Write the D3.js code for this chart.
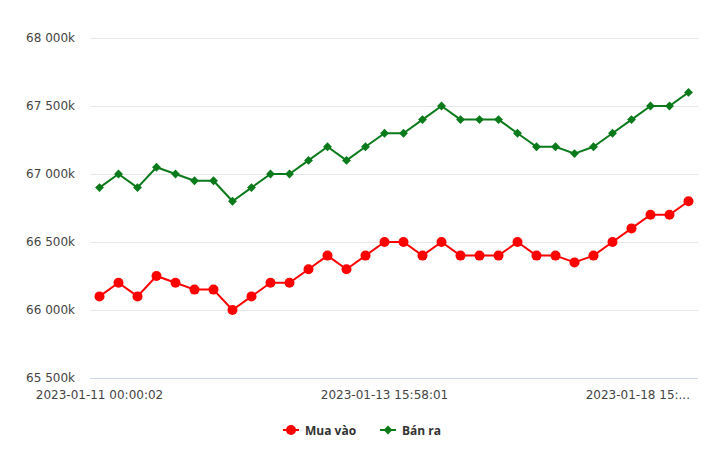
<!DOCTYPE html>
<html><head><meta charset="utf-8">
<script src="https://cdn.jsdelivr.net/npm/d3@7"></script>
<style>
body{margin:0;background:#fff;}
svg{font-family:"Open Sans","Segoe UI",Arial,sans-serif;}
.ax{font-family:"DejaVu Sans",Verdana,sans-serif;}
</style></head>
<body><svg id="c" width="720" height="452"></svg>
<script>
const muaVao = [66100,66200,66100,66250,66200,66150,66150,66000,66100,66200,66200,66300,66400,66300,66400,66500,66500,66400,66500,66400,66400,66400,66500,66400,66400,66350,66400,66500,66600,66700,66700,66800];
const banRa = [66900,67000,66900,67050,67000,66950,66950,66800,66900,67000,67000,67100,67200,67100,67200,67300,67300,67400,67500,67400,67400,67400,67300,67200,67200,67150,67200,67300,67400,67500,67500,67600];
const yTicks = [65500,66000,66500,67000,67500,68000];
const xTickIdx = [0,15,30];
const xTickLabels = ["2023-01-11 00:00:02","2023-01-13 15:58:01","2023-01-18 15:..."];
const seriesNames = ["Mua vào","Bán ra"];
const colors = ["#ff0000","#0a7a1a"];

const svg = d3.select("#c");
const pL = 90, pR = 698, pT = 38, pB = 378;
const x = d3.scalePoint().domain(d3.range(muaVao.length)).range([pL, pR]).padding(0.5);
const y = d3.scaleLinear().domain([65500,68000]).range([pB, pT]);

svg.append("g").selectAll("line").data(yTicks.filter(d=>d>65500)).join("line")
  .attr("x1",pL).attr("x2",pR).attr("y1",d=>Math.round(y(d))+0.5).attr("y2",d=>Math.round(y(d))+0.5)
  .attr("stroke","#e6e6e6").attr("stroke-width",1);
svg.append("line").attr("x1",pL).attr("x2",pR).attr("y1",pB+0.5).attr("y2",pB+0.5)
  .attr("stroke","#ccd6eb");

svg.append("g").attr("class","ax").selectAll("text").data(yTicks).join("text")
  .attr("x",75).attr("y",d=>y(d)+4).attr("text-anchor","end")
  .attr("font-size","12px").attr("fill","#444")
  .text(d=>{const s=String(d); return s.slice(0,2)+" "+s.slice(2)+"k";});

svg.append("g").attr("class","ax").selectAll("text").data(xTickIdx).join("text")
  .attr("x",(d,i)=> i===xTickIdx.length-1 ? pR-8 : x(d))
  .attr("y",399).attr("text-anchor",(d,i)=> i===xTickIdx.length-1 ? "end":"middle")
  .attr("font-size","12px").attr("fill","#444")
  .text((d,i)=>xTickLabels[i]);

const line = d3.line().x((d,i)=>x(i)).y(d=>y(d));
[muaVao,banRa].forEach((s,k)=>{
  svg.append("path").datum(s).attr("d",line).attr("fill","none")
    .attr("stroke",colors[k]).attr("stroke-width",2).attr("stroke-linejoin","round");
});
svg.append("g").selectAll("circle").data(muaVao).join("circle")
  .attr("cx",(d,i)=>x(i)).attr("cy",d=>y(d)).attr("r",5).attr("fill",colors[0]);
const dia = d3.symbol().type(d3.symbolDiamond2).size(50);
svg.append("g").selectAll("path").data(banRa).join("path")
  .attr("d",dia).attr("transform",(d,i)=>`translate(${x(i)},${y(d)})`).attr("fill",colors[1]);

const lg = svg.append("g");
const lx = [283, 380];
seriesNames.forEach((n,k)=>{
  lg.append("line").attr("x1",lx[k]).attr("x2",lx[k]+16).attr("y1",430).attr("y2",430)
    .attr("stroke",colors[k]).attr("stroke-width",2);
  if(k===0) lg.append("circle").attr("cx",lx[k]+8).attr("cy",430).attr("r",5).attr("fill",colors[k]);
  else lg.append("path").attr("d",dia).attr("transform",`translate(${lx[k]+8},430)`).attr("fill",colors[k]);
  lg.append("text").attr("x",lx[k]+22).attr("y",434.5).attr("font-size","12px").attr("font-weight","bold")
    .attr("fill","#333").text(n);
});
</script></body></html>
